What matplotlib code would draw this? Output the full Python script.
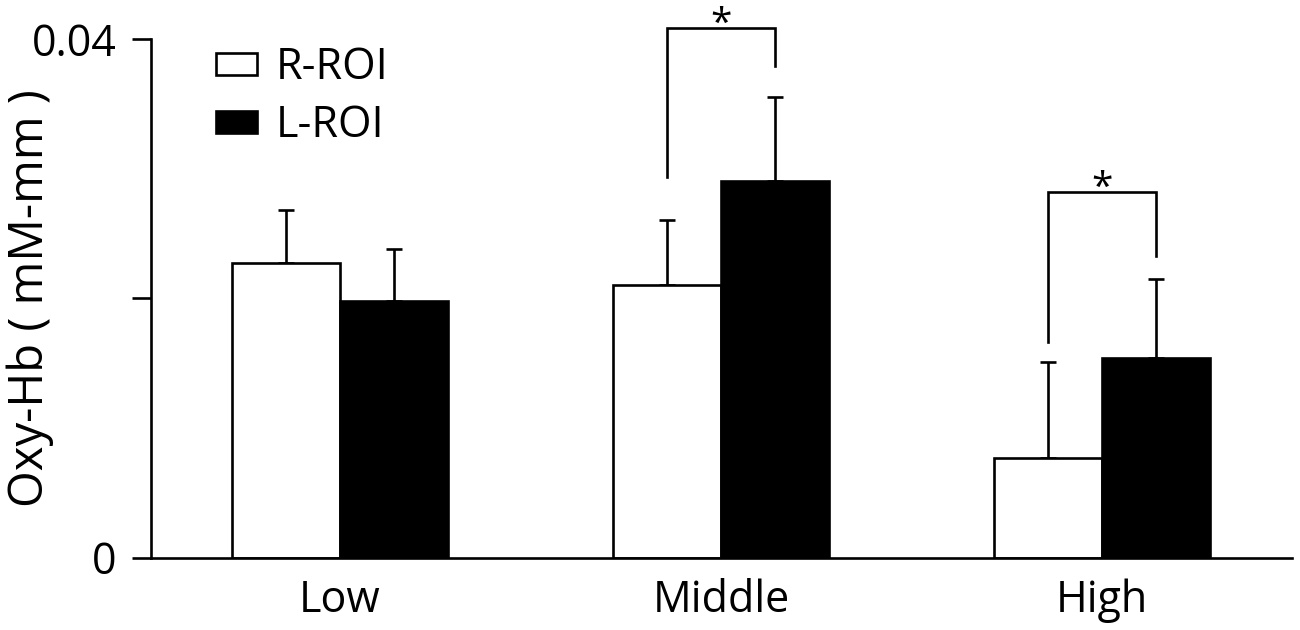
import numpy as np
import matplotlib
matplotlib.use("Agg")
import matplotlib.pyplot as plt

categories = ["Low", "Middle", "High"]
r_roi = [0.02272, 0.02102, 0.00768]
l_roi = [0.01979, 0.02905, 0.01539]
r_err = [0.00412, 0.00502, 0.00740]
l_err = [0.00401, 0.00648, 0.00609]
series_labels = ["R-ROI", "L-ROI"]
ytick_vals = [0, 0.02, 0.04]
ytick_labels = ["0", "", "0.04"]
ylabel = "Oxy-Hb ( mM-mm )"

# significance brackets: (group index, top, left leg bottom, right leg bottom)
sig_groups = [1, 2]
sig_top = [0.04085, 0.02820]
sig_left_bottom = [0.02935, 0.01662]
sig_right_bottom = [0.03792, 0.02326]

FS = 31
plt.rcParams['font.family'] = ['Open Sans', 'DejaVu Sans']
fig = plt.figure(figsize=(13, 6.3), dpi=100)
ax = fig.add_axes([151/1300, (630-557.5)/630, (1292-151)/1300, 518.5/630])

x = np.arange(len(categories))
w = 0.2835
lw = 1.9
b1 = ax.bar(x - w/2, r_roi, w, color="white", edgecolor="black", linewidth=lw,
            label=series_labels[0], zorder=2)
b2 = ax.bar(x + w/2, l_roi, w, color="black", edgecolor="black", linewidth=lw,
            label=series_labels[1], zorder=2)
ax.errorbar(x - w/2, r_roi, yerr=[np.zeros(3), r_err], fmt="none", ecolor="black",
            elinewidth=lw, capsize=5.5, capthick=lw, zorder=1)
ax.errorbar(x + w/2, l_roi, yerr=[np.zeros(3), l_err], fmt="none", ecolor="black",
            elinewidth=lw, capsize=5.5, capthick=lw, zorder=1)

for g, top, lb, rb in zip(sig_groups, sig_top, sig_left_bottom, sig_right_bottom):
    xl, xr = g - w/2, g + w/2
    ax.plot([xl, xl, xr, xr], [lb, top, top, rb], color="black", lw=lw,
            clip_on=False, solid_joinstyle="miter")
    ax.annotate("*", xy=((xl + xr)/2, top), xytext=(0, -7), textcoords="offset pixels",
                ha="center", va="baseline", fontsize=28, annotation_clip=False)

ax.set_xlim(-0.496, 2.499)
ax.set_ylim(0, 0.04)
ax.set_xticks(x)
ax.set_xticklabels(categories, fontsize=FS)
ax.tick_params(axis="x", length=0, pad=15)
ax.set_yticks(ytick_vals)
ax.set_yticklabels(ytick_labels, fontsize=FS)
ax.tick_params(axis="y", direction="out", length=14, width=lw, pad=11)
for s in ["top", "right"]:
    ax.spines[s].set_visible(False)
for s in ["left", "bottom"]:
    ax.spines[s].set_linewidth(lw)
ax.set_ylabel(ylabel, fontsize=34, va="center")
ax.yaxis.set_label_coords(-0.106, 0.5)

leg = ax.legend(handles=[b1, b2], loc="upper left", bbox_to_anchor=(0.057, 0.987),
                frameon=False, fontsize=FS, handlelength=0.95, handleheight=0.42,
                handletextpad=0.44, labelspacing=0.31, borderaxespad=0, borderpad=0)

fig.savefig("out.png", dpi=100, facecolor="white")
